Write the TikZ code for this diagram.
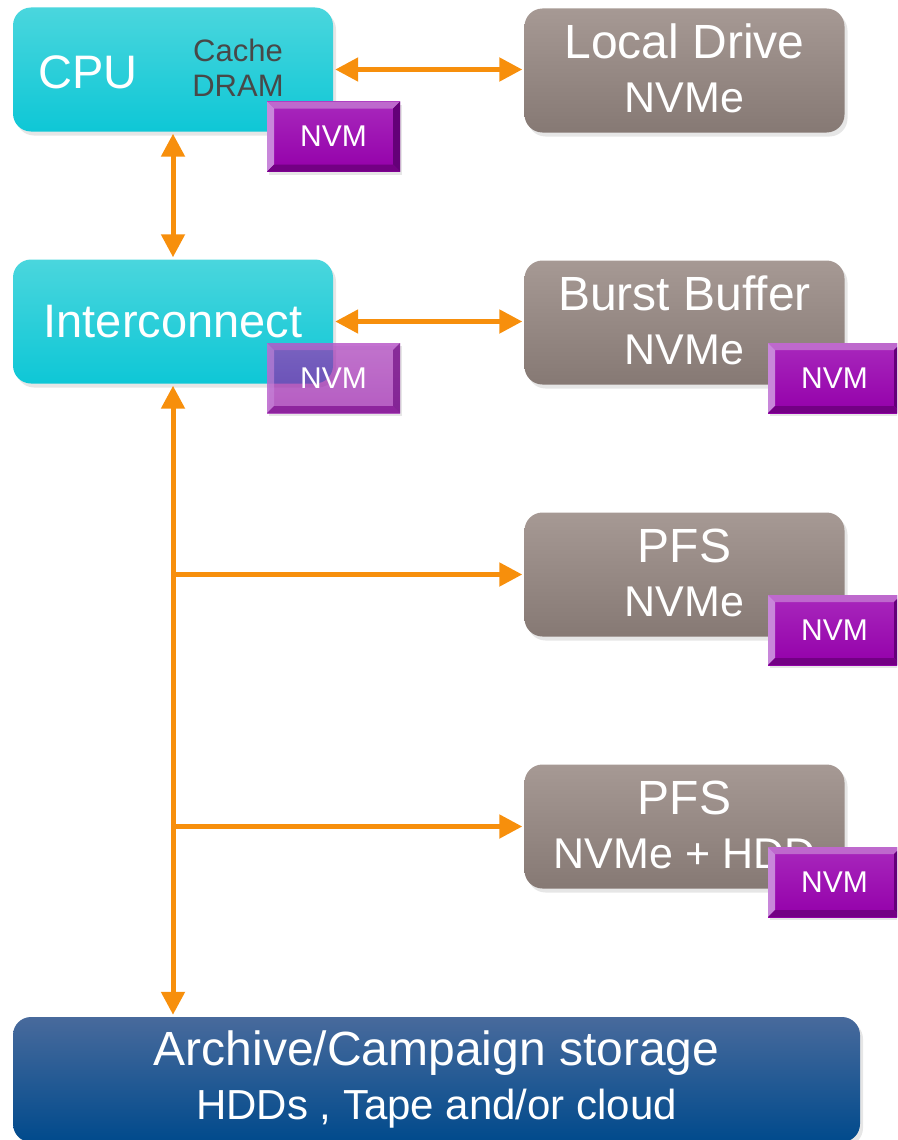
\documentclass[tikz,border=0pt]{standalone}
\usepackage{fontspec}
\setmainfont{Liberation Sans}
\usetikzlibrary{positioning,calc,arrows.meta,shadows}

\definecolor{cyantop}{RGB}{74,214,221}
\definecolor{cyanbot}{RGB}{14,199,214}
\definecolor{greytop}{RGB}{166,153,148}
\definecolor{greybot}{RGB}{134,121,116}
\definecolor{bluetop}{RGB}{72,106,156}
\definecolor{bluebot}{RGB}{0,74,140}
\definecolor{nvmtopc}{RGB}{168,40,188}
\definecolor{nvmbotc}{RGB}{148,0,170}
\definecolor{nvmhi}{RGB}{190,105,205}
\definecolor{nvmlf}{RGB}{200,135,218}
\definecolor{nvmrt}{RGB}{100,0,120}
\definecolor{nvmlo}{RGB}{115,0,132}
\definecolor{arrowc}{RGB}{247,143,12}
\definecolor{cachec}{RGB}{72,72,72}

\newcommand{\headtxt}[1]{{\fontsize{48}{54}\selectfont #1}}
\newcommand{\subtxt}[1]{{\fontsize{43}{54}\selectfont #1}}

\begin{document}
\begin{tikzpicture}[x=1pt,y=-1pt]
        \tikzstyle{box}=[rectangle, rounded corners=18pt, inner sep=0pt, minimum width=320pt, minimum height=124pt, text=white, align=center, font=\fontsize{46}{54}\selectfont, drop shadow={shadow xshift=3pt, shadow yshift=-4pt, opacity=.2}]
        \tikzstyle{cyanbox}=[box, top color=cyantop, bottom color=cyanbot]
        \tikzstyle{greybox}=[box, top color=greytop, bottom color=greybot, text depth=4pt]
        \tikzstyle{nvm}=[rectangle, inner sep=0pt, minimum width=133pt, minimum height=70pt, top color=nvmtopc, bottom color=nvmbotc, text=white, font=\fontsize{30}{36}\selectfont, drop shadow={shadow xshift=2pt, shadow yshift=-3pt, opacity=.2},
          path picture={
            \fill[nvmhi] (path picture bounding box.north west) -- (path picture bounding box.north east) -- ([xshift=-7pt,yshift=-7pt]path picture bounding box.north east) -- ([xshift=7pt,yshift=-7pt]path picture bounding box.north west) -- cycle;
            \fill[nvmlf] (path picture bounding box.north west) -- ([xshift=7pt,yshift=-7pt]path picture bounding box.north west) -- ([xshift=7pt,yshift=7pt]path picture bounding box.south west) -- (path picture bounding box.south west) -- cycle;
            \fill[nvmrt] (path picture bounding box.north east) -- ([xshift=-7pt,yshift=-7pt]path picture bounding box.north east) -- ([xshift=-7pt,yshift=7pt]path picture bounding box.south east) -- (path picture bounding box.south east) -- cycle;
            \fill[nvmlo] (path picture bounding box.south west) -- ([xshift=7pt,yshift=7pt]path picture bounding box.south west) -- ([xshift=-7pt,yshift=7pt]path picture bounding box.south east) -- (path picture bounding box.south east) -- cycle;
          }]
        \tikzstyle{link}=[draw=arrowc, line width=5pt, shorten >=2pt, shorten <=2pt, {Triangle[length=23pt,width=23pt]}-{Triangle[length=23pt,width=23pt]}]
        \tikzstyle{branch}=[draw=arrowc, line width=5pt, shorten >=2pt, -{Triangle[length=23pt,width=23pt]}]

        \clip (0,0) rectangle (897,1140);

        % left column
        \node[cyanbox] (cpu) at (173,69.5) {};
        \node[white, font=\fontsize{47}{54}\selectfont] (cputxt) at (88,72) {CPU};
        \node[cachec, align=center, font=\fontsize{31}{35}\selectfont] (cache) at (238,67.5) {Cache\\DRAM};
        \node[nvm] (nvm1) at (333.5,136.5) {NVM};

        \node[cyanbox, font=\fontsize{47}{54}\selectfont] (ic) at (173,321.5) {Interconnect};
        \node[nvm, opacity=.6, text opacity=1] (nvm2) at (333.5,378) {NVM};

        % right column
        \node[greybox] (ld) at (684.5,70.5) {\headtxt{Local Drive}\\\subtxt{NVMe}};
        \node[greybox] (bb) at (684.5,322.5) {\headtxt{Burst Buffer}\\\subtxt{NVMe}};
        \node[nvm] (nvm3) at (834.5,378) {NVM};
        \node[greybox] (pfsa) at (684.5,574.5) {\headtxt{PFS}\\\subtxt{NVMe}};
        \node[nvm] (nvm4) at (834.5,630) {NVM};
        \node[greybox] (pfsb) at (684.5,826.5) {\headtxt{PFS}\\\subtxt{NVMe + HDD}};
        \node[nvm] (nvm5) at (834.5,882) {NVM};

        % archive
        \node[box, minimum width=847pt, minimum height=125pt, top color=bluetop, bottom color=bluebot] (arc) at (436.5,1079.5)
          {{\fontsize{48}{53}\selectfont Archive/Campaign storage}\\{\fontsize{42}{53}\selectfont HDDs , Tape and/or cloud}};

        % connectors
        \draw[link] (cpu.east) -- (cpu.east -| ld.west);
        \draw[link] (cpu.south) -- (ic.north);
        \draw[link] (ic.east) -- (ic.east -| bb.west);
        \draw[link] (ic.south) -- (ic.south |- arc.north);
        \draw[branch] (ic.south |- pfsa.west) -- (pfsa.west);
        \draw[branch] (ic.south |- pfsb.west) -- (pfsb.west);
\end{tikzpicture}
\end{document}
